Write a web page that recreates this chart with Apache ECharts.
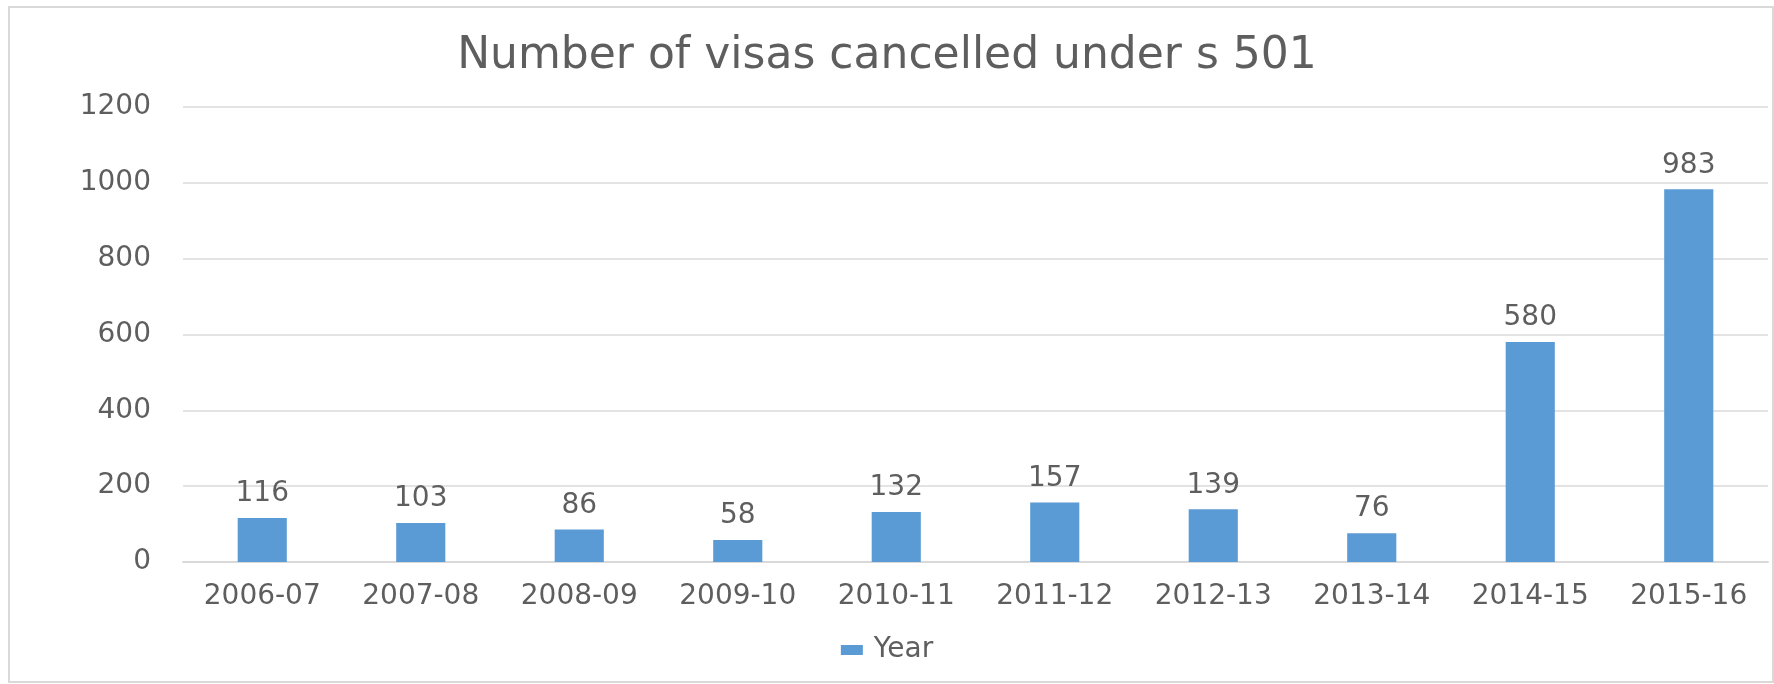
<!DOCTYPE html>
<html>
<head>
<meta charset="utf-8">
<title>Number of visas cancelled under s 501</title>
<script src="https://cdn.jsdelivr.net/npm/echarts@6/dist/echarts.min.js"></script>
<style>
  html, body { margin: 0; padding: 0; background: #ffffff; }
  #chart { width: 1774px; height: 684px; }
</style>
</head>
<body>
<div id="chart"></div>
<script>
// Financial years on the category axis
const years = ['2006-07', '2007-08', '2008-09', '2009-10', '2010-11',
               '2011-12', '2012-13', '2013-14', '2014-15', '2015-16'];
// Visas cancelled under s 501 in each year
const cancellations = [116, 103, 86, 58, 132, 157, 139, 76, 580, 983];
// Value axis range
const yMin = 0;
const yMax = 1200;
const yStep = 200;

const textGrey = '#5e5e5e';
const lineGrey = '#e3e3e3';
const barBlue = '#5b9bd5';
const fontFamily = '"DejaVu Sans", sans-serif';

const chart = echarts.init(document.getElementById('chart'), null, { renderer: 'canvas' });

chart.setOption({
  backgroundColor: '#ffffff',
  animation: false,
  textStyle: { fontFamily: fontFamily },
  title: {
    text: 'Number of visas cancelled under s 501',
    left: 'center',
    top: 30,
    textStyle: { color: textGrey, fontSize: 44, fontWeight: 'normal', fontFamily: fontFamily }
  },
  graphic: [{
    type: 'rect',
    shape: { x: 9, y: 7, width: 1764, height: 675 },
    style: { fill: 'none', stroke: '#d9d9d9', lineWidth: 2 },
    silent: true,
    z: -1
  }],
  legend: {
    bottom: 15,
    left: 'center',
    itemWidth: 22,
    itemHeight: 10,
    icon: 'rect',
    textStyle: { color: textGrey, fontSize: 28, fontFamily: fontFamily, padding: [0, 0, 0, 6] },
    data: ['Year']
  },
  grid: { left: 183, right: 6, top: 107, bottom: 122, containLabel: false },
  xAxis: {
    type: 'category',
    data: years,
    axisTick: { show: false },
    axisLine: { lineStyle: { color: '#d9d9d9', width: 2 } },
    axisLabel: { color: textGrey, fontSize: 28, margin: 21, fontFamily: fontFamily }
  },
  yAxis: {
    type: 'value',
    min: yMin,
    max: yMax,
    interval: yStep,
    axisLine: { show: false },
    axisTick: { show: false },
    splitLine: { lineStyle: { color: lineGrey, width: 2 } },
    axisLabel: {
      color: textGrey,
      fontSize: 28,
      margin: 32,
      fontFamily: fontFamily,
      formatter: function (v) { return String(v); }
    }
  },
  series: [{
    name: 'Year',
    type: 'bar',
    data: cancellations,
    barWidth: '31%',
    itemStyle: { color: barBlue },
    label: {
      show: true,
      position: 'top',
      distance: 10,
      color: textGrey,
      fontSize: 28,
      fontFamily: fontFamily
    }
  }]
});
</script>
</body>
</html>
